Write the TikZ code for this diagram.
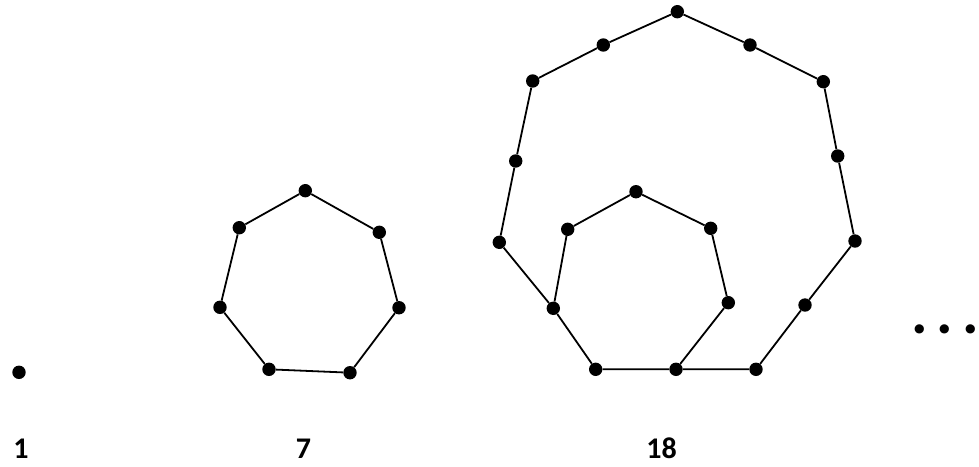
\documentclass[tikz,border=0pt]{standalone}
\usepackage{fontspec}
\setmainfont{Carlito}
\begin{document}
\begin{tikzpicture}[x=1pt,y=-1pt,
  dot/.style={circle,fill=black,inner sep=0pt,minimum size=13.4pt},
  edge/.style={draw=black,line width=1.8pt},
  lbl/.style={anchor=base,inner sep=0pt,font=\fontsize{30}{36}\selectfont\bfseries}]
\useasboundingbox (0,0) rectangle (979,466);
% figure 1
\node[dot] (s) at (19,372.3) {};
% figure 7
\node[dot] (a1) at (305.3,190.7) {};
\node[dot] (a2) at (379.3,232.3) {};
\node[dot] (a3) at (399,307.7) {};
\node[dot] (a4) at (350,372.7) {};
\node[dot] (a5) at (269,369.3) {};
\node[dot] (a6) at (220,307.3) {};
\node[dot] (a7) at (239.3,227.7) {};
\draw[edge] (a1)--(a2)--(a3)--(a4)--(a5)--(a6)--(a7)--(a1);
% figure 18 outer
\node[dot] (o1) at (677.3,11.7) {};
\node[dot] (m1) at (750,45) {};
\node[dot] (o2) at (823.3,81.7) {};
\node[dot] (m2) at (837.7,156) {};
\node[dot] (o3) at (855,241) {};
\node[dot] (m3) at (805,305) {};
\node[dot] (o4) at (756,369.3) {};
\node[dot] (m4) at (676,369.3) {};
\node[dot] (o5) at (595.7,369.3) {};
\node[dot] (m5) at (553.3,308.3) {};
\node[dot] (o6) at (499.3,242.3) {};
\node[dot] (m6) at (515.7,161) {};
\node[dot] (o7) at (532.7,81) {};
\node[dot] (m7) at (603.3,45) {};
\draw[edge] (o1)--(m1)--(o2)--(m2)--(o3)--(m3)--(o4)--(m4)--(o5)--(m5)--(o6)--(m6)--(o7)--(m7)--(o1);
% inner
\node[dot] (i1) at (728.3,302.7) {};
\node[dot] (i2) at (710.7,228.3) {};
\node[dot] (i3) at (636,191.7) {};
\node[dot] (i4) at (567.7,229.3) {};
\draw[edge] (m4)--(i1)--(i2)--(i3)--(i4)--(m5);
% ellipsis
\node[anchor=base,inner sep=0pt,font=\fontsize{62}{70}\selectfont\bfseries] (ell) at (945,333) {.\hspace{0.145em}.\hspace{0.145em}.};
% labels
\node[lbl] (l1) at (21,458) {1};
\node[lbl] (l7) at (303.5,458) {7};
\node[lbl] (l18) at (661.5,458) {18};
\end{tikzpicture}
\end{document}
